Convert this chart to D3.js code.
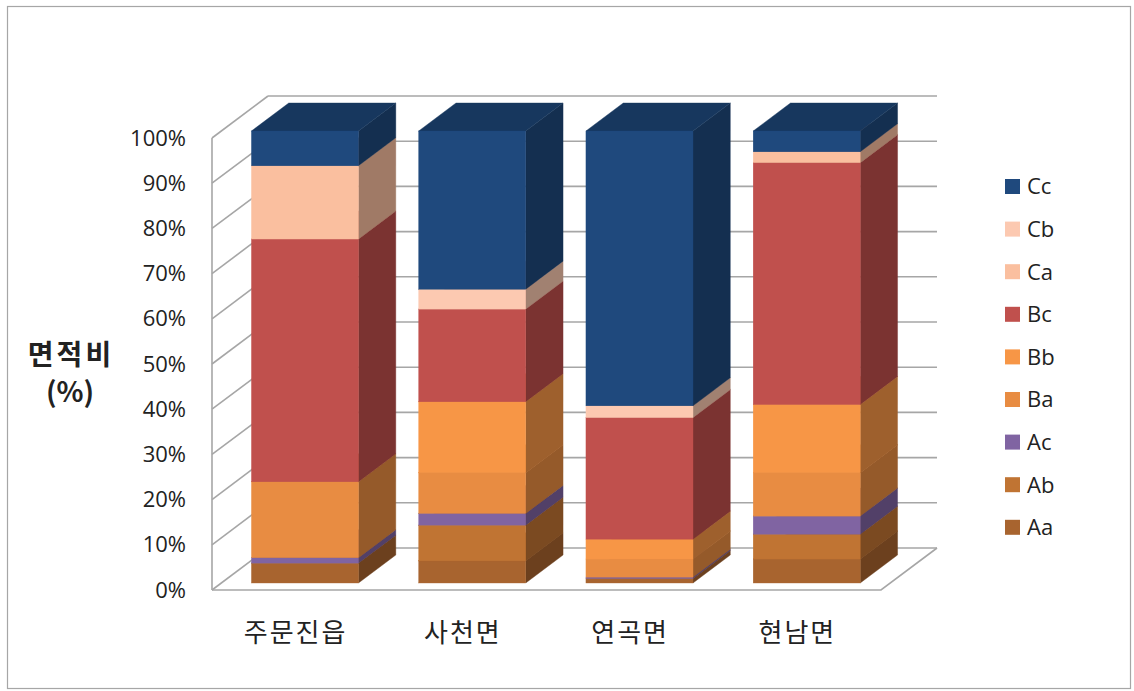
<!DOCTYPE html>
<html>
<head>
<meta charset="utf-8">
<script src="https://cdn.jsdelivr.net/npm/d3@7"></script>
<style>
  body { margin: 0; background: #fff; }
  text { font-family: "Open Sans", "Noto Sans CJK KR", sans-serif; fill: #222; }
  .kr { font-family: "Noto Sans CJK KR", sans-serif; }
</style>
</head>
<body>
<div id="chart"></div>
<script>
// categories and stacked series (percent of area)
var categories = ['주문진읍', '사천면', '연곡면', '현남면'];
var seriesKeys = ['Aa', 'Ab', 'Ac', 'Ba', 'Bb', 'Bc', 'Ca', 'Cb', 'Cc'];
var Aa = [4.4, 4.9, 1.0, 5.3];
var Ab = [0, 7.9, 0, 5.5];
var Ac = [1.2, 2.6, 0.3, 4.0];
var Ba = [16.8, 9.0, 4.0, 9.6];
var Bb = [0, 15.7, 4.4, 15.1];
var Bc = [53.7, 20.5, 26.9, 53.5];
var Ca = [16.2, 0, 0, 2.4];
var Cb = [0, 4.4, 2.6, 0];
var Cc = [7.7, 35.0, 60.8, 4.6];
var yTicks = [0, 10, 20, 30, 40, 50, 60, 70, 80, 90, 100];

var seriesValues = { Aa: Aa, Ab: Ab, Ac: Ac, Ba: Ba, Bb: Bb, Bc: Bc, Ca: Ca, Cb: Cb, Cc: Cc };
var colors = {
    Aa: '#a8642f', Ab: '#c07433', Ac: '#8064a2', Ba: '#e88c42', Bb: '#f79646',
    Bc: '#c0504d', Ca: '#fabf9f', Cb: '#fcc9b1', Cc: '#1f497d'
};

var data = categories.map(function (c, i) {
    var row = { cat: c };
    seriesKeys.forEach(function (k) { row[k] = seriesValues[k][i]; });
    return row;
});

var width = 1134, height = 691;
var svg = d3.select('#chart').append('svg')
    .attr('width', width)
    .attr('height', height);

// outer frame
svg.append('rect')
    .attr('x', 7.5).attr('y', 6.5)
    .attr('width', 1123).attr('height', 682)
    .attr('fill', 'none')
    .attr('stroke', '#a6a6a6')
    .attr('stroke-width', 1.2);

// front plane scales, depth vector for the 3D walls
var x = d3.scaleBand()
    .domain(categories)
    .range([212, 881])
    .paddingInner(0.36)
    .paddingOuter(0.18);
var y = d3.scaleLinear()
    .domain([0, 100])
    .range([590, 138]);
var depth = { dx: 56, dy: -42 };
var zFront = 0.167, zBack = 0.833;

function px(xv, z) { return xv + z * depth.dx; }
function py(yv, z) { return yv + z * depth.dy; }

var grid = svg.append('g')
    .attr('fill', 'none')
    .attr('stroke', '#a6a6a6')
    .attr('stroke-width', 1.6);

// left wall diagonals and back wall lines
yTicks.forEach(function (t) {
    grid.append('line')
        .attr('x1', x.range()[0]).attr('y1', y(t))
        .attr('x2', px(x.range()[0], 1)).attr('y2', py(y(t), 1));
    grid.append('line')
        .attr('x1', px(x.range()[0], 1)).attr('y1', py(y(t), 1))
        .attr('x2', px(x.range()[1], 1)).attr('y2', py(y(t), 1));
});
// left wall front edge
grid.append('line')
    .attr('x1', x.range()[0]).attr('y1', y(0))
    .attr('x2', x.range()[0]).attr('y2', y(100));
// floor
grid.append('path')
    .attr('d', 'M' + x.range()[0] + ',' + y(0) +
        'L' + x.range()[1] + ',' + y(0) +
        'L' + px(x.range()[1], 1) + ',' + py(y(0), 1));

// stacked 3D bars
var stacked = d3.stack().keys(seriesKeys)(data);
var bars = svg.append('g');

categories.forEach(function (c, i) {
    var x0 = x(c), x1 = x(c) + x.bandwidth();
    stacked.forEach(function (s) {
        var d = s[i];
        if (d[1] - d[0] <= 0) return;
        var col = colors[s.key];
        var yb = y(d[0]), yt = y(d[1]);
        var fx0 = px(x0, zFront), fx1 = px(x1, zFront);
        var bx0 = px(x0, zBack), bx1 = px(x1, zBack);
        var fyb = py(yb, zFront), fyt = py(yt, zFront);
        var byb = py(yb, zBack), byt = py(yt, zBack);
        // side face
        bars.append('path')
            .attr('d', 'M' + fx1 + ',' + fyb + 'L' + bx1 + ',' + byb +
                'L' + bx1 + ',' + byt + 'L' + fx1 + ',' + fyt + 'Z')
            .attr('fill', d3.color(col).darker(1.25))
            .attr('stroke', d3.color(col).darker(1.25))
            .attr('stroke-width', 0.4);
        // top face
        bars.append('path')
            .attr('d', 'M' + fx0 + ',' + fyt + 'L' + bx0 + ',' + byt +
                'L' + bx1 + ',' + byt + 'L' + fx1 + ',' + fyt + 'Z')
            .attr('fill', d3.color(col).darker(0.8))
            .attr('stroke', d3.color(col).darker(0.8))
            .attr('stroke-width', 0.4);
        // front face
        bars.append('rect')
            .attr('x', fx0).attr('y', fyt)
            .attr('width', fx1 - fx0)
            .attr('height', fyb - fyt)
            .attr('fill', col)
            .attr('stroke', col)
            .attr('stroke-width', 0.4);
    });
});

// y axis labels
var yAxis = svg.append('g')
    .attr('transform', 'translate(' + x.range()[0] + ',0)')
    .call(d3.axisLeft(y).tickValues(yTicks).tickSize(0).tickPadding(26)
        .tickFormat(function (d) { return d + '%'; }));
yAxis.select('.domain').remove();
yAxis.selectAll('text')
    .style('font-size', '22px')
    .style('font-family', '"Open Sans", sans-serif')
    .attr('fill', '#222');

// category labels
var xAxis = svg.append('g')
    .attr('transform', 'translate(0,' + y(0) + ')')
    .call(d3.axisBottom(x).tickSize(0).tickPadding(34));
xAxis.select('.domain').remove();
xAxis.selectAll('text')
    .attr('class', 'kr')
    .style('font-size', '26px')
    .style('letter-spacing', '2px')
    .attr('fill', '#222');

// y title
var yTitle = svg.append('text')
    .attr('class', 'kr')
    .attr('text-anchor', 'middle')
    .style('font-size', '28px')
    .style('font-weight', 'bold')
    .attr('fill', '#000');
yTitle.append('tspan').attr('x', 71).attr('y', 365).style('letter-spacing', '3px').text('면적비');
yTitle.append('tspan').attr('x', 70).attr('y', 402).text('(%)');

// legend (top to bottom: Cc ... Aa)
var legendKeys = seriesKeys.slice().reverse();
var legend = svg.append('g')
    .selectAll('g')
    .data(legendKeys)
    .enter().append('g')
    .attr('transform', function (d, i) { return 'translate(1005,' + (186.5 + i * 42.6) + ')'; });
legend.append('rect')
    .attr('x', 0).attr('y', -7.5)
    .attr('width', 15).attr('height', 15)
    .attr('fill', function (d) { return colors[d]; });
legend.append('text')
    .attr('x', 22).attr('y', 0)
    .attr('dy', '0.36em')
    .style('font-size', '22px')
    .attr('fill', '#222')
    .text(function (d) { return d; });
</script>
</body>
</html>
